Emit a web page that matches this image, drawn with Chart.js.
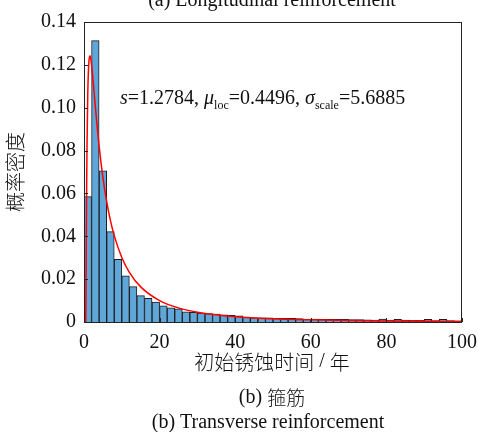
<!DOCTYPE html>
<html>
<head>
<meta charset="utf-8">
<script src="https://cdn.jsdelivr.net/npm/chart.js@4.4.0/dist/chart.umd.min.js"></script>
<style>
  html, body { margin: 0; padding: 0; background: #fff; }
  #wrap { width: 478px; height: 432px; }
</style>
</head>
<body>
<div id="wrap"><canvas id="histChart" width="478" height="432"></canvas></div>
<script>
// histogram bins (width 2 years), centres
const binCenters = [1, 3, 5, 7, 9, 11, 13, 15, 17, 19, 21, 23, 25, 27, 29, 31, 33, 35, 37, 39,
  41, 43, 45, 47, 49, 51, 53, 55, 57, 59, 61, 63, 65, 67, 69, 71, 73, 75, 77, 79,
  81, 83, 85, 87, 89, 91, 93, 95, 97, 99];
const density = [0.0585, 0.1313, 0.0705, 0.0422, 0.0293, 0.0215, 0.0165, 0.0123, 0.0110, 0.0093,
  0.0076, 0.0066, 0.0061, 0.0048, 0.0045, 0.0042, 0.0039, 0.0037, 0.0034, 0.0031,
  0.0029, 0.0023, 0.0020, 0.0020, 0.0019, 0.0017, 0.0017, 0.0017, 0.0016, 0.0014,
  0.0014, 0.0013, 0.0013, 0.0012, 0.0012, 0.0011, 0.0011, 0.0010, 0.0009, 0.0014,
  0.0009, 0.0013, 0.0009, 0.0008, 0.0008, 0.0013, 0.0007, 0.0013, 0.0007, 0.0006];

// fitted lognormal curve
const fitX = [0.45, 0.5, 0.6, 0.7, 0.8, 1.0, 1.3, 1.6, 2, 2.5, 3, 4, 5, 6, 7, 8, 10, 12, 15,
  20, 25, 30, 40, 50, 60, 70, 80, 90, 100];
const fitY = [0, 0.0067, 0.0366, 0.0631, 0.0827, 0.1068, 0.1216, 0.1242, 0.1200, 0.1107, 0.1005,
  0.0821, 0.0675, 0.0562, 0.0473, 0.0403, 0.0301, 0.0232, 0.0164,
  0.0100, 0.0066, 0.0046, 0.0025, 0.0015, 0.0010, 0.00066, 0.00047, 0.00034, 0.00026];

const xTicks = [0, 20, 40, 60, 80, 100];
const yTicks = [0, 0.02, 0.04, 0.06, 0.08, 0.10, 0.12, 0.14];

const serif = '"Liberation Serif", "Times New Roman", serif';
const cjk = '"Noto Sans CJK SC", "Liberation Serif", serif';

// draws a run of [text, font, dy] pieces centred on cx
function drawRuns(ctx, runs, cx, y) {
  let total = 0;
  runs.forEach(([t, f]) => { ctx.font = f; total += ctx.measureText(t).width; });
  let x = cx - total / 2;
  ctx.textAlign = 'left';
  runs.forEach(([t, f, dy]) => {
    ctx.font = f;
    ctx.fillText(t, x, y + (dy || 0));
    x += ctx.measureText(t).width;
  });
}

// frame, inside ticks, titles and annotation
const decorPlugin = {
  id: 'decor',
  afterDraw(chart) {
    const { ctx, chartArea: ca, scales } = chart;
    ctx.save();
    ctx.strokeStyle = '#222';
    ctx.lineWidth = 1;
    ctx.strokeRect(ca.left + 0.5, ca.top + 0.5, ca.right - ca.left - 1, ca.bottom - ca.top);
    ctx.beginPath();
    yTicks.forEach(v => {
      const y = Math.round(scales.y.getPixelForValue(v)) + 0.5;
      ctx.moveTo(ca.left, y); ctx.lineTo(ca.left + 4, y);
    });
    xTicks.forEach(v => {
      const x = Math.round(scales.x.getPixelForValue(v)) + 0.5;
      ctx.moveTo(x, ca.bottom); ctx.lineTo(x, ca.bottom - 4);
    });
    ctx.stroke();

    ctx.fillStyle = '#111';
    ctx.textAlign = 'center';
    // top caption (cut off)
    ctx.font = '20px ' + serif;
    ctx.textBaseline = 'alphabetic';
    ctx.fillText('(a) Longitudinal reinforcement', 272, 6);
    // x title
    ctx.textBaseline = 'middle';
    drawRuns(ctx, [['初始锈蚀时间', '300 20px ' + cjk], [' / ', '20px ' + serif], ['年', '300 20px ' + cjk]], 272, 362);
    // captions
    drawRuns(ctx, [['(b) ', '20px ' + serif], ['箍筋', '300 19px ' + cjk]], 272, 398);
    ctx.textAlign = 'center';
    ctx.font = '20px ' + serif;
    ctx.fillText('(b) Transverse reinforcement', 268, 423);
    // y title
    ctx.save();
    ctx.translate(15, 172);
    ctx.rotate(-Math.PI / 2);
    ctx.textAlign = 'center';
    ctx.font = '300 20px ' + cjk;
    ctx.fillText('概率密度', 0, 0);
    ctx.restore();

    // annotation with subscripts
    const parts = [
      ['s', 'italic 20px ' + serif, 0],
      ['=1.2784, ', '20px ' + serif, 0],
      ['μ', 'italic 20px ' + serif, 0],
      ['loc', '12px ' + serif, 5],
      ['=0.4496, ', '20px ' + serif, 0],
      ['σ', 'italic 20px ' + serif, 0],
      ['scale', '12px ' + serif, 5],
      ['=5.6885', '20px ' + serif, 0]
    ];
    ctx.textAlign = 'left';
    ctx.textBaseline = 'alphabetic';
    let x = 120;
    const base = 104;
    parts.forEach(([t, f, dy]) => {
      ctx.font = f;
      ctx.fillText(t, x, base + dy);
      x += ctx.measureText(t).width;
    });
    ctx.restore();
  }
};

new Chart(document.getElementById('histChart'), {
  type: 'bar',
  data: {
    datasets: [
      {
        type: 'line',
        data: fitX.map((v, i) => ({ x: v, y: fitY[i] })),
        borderColor: '#ff0000',
        borderWidth: 1.5,
        pointRadius: 0,
        cubicInterpolationMode: 'monotone',
        fill: false,
        order: 0
      },
      {
        type: 'bar',
        data: binCenters.map((v, i) => ({ x: v, y: density[i] })),
        backgroundColor: '#5fa6d9',
        borderColor: '#1e1e1e',
        borderWidth: 1,
        barPercentage: 1,
        categoryPercentage: 1,
        order: 1
      }
    ]
  },
  options: {
    responsive: false,
    animation: false,
    layout: { padding: { top: 22, right: 16, left: 0, bottom: 0 } },
    plugins: { legend: { display: false }, tooltip: { enabled: false } },
    scales: {
      x: {
        type: 'linear',
        min: 0, max: 100,
        offset: false,
        afterFit: s => { s.height = 110; s.paddingRight = 0; s.paddingLeft = 0; },
        afterBuildTicks: s => { s.ticks = xTicks.map(v => ({ value: v })); },
        grid: { display: false, drawTicks: false, offset: false },
        border: { display: false },
        ticks: { color: '#111', padding: 9, font: { family: serif, size: 20 } }
      },
      y: {
        min: 0, max: 0.14,
        afterFit: s => { s.width = 84; s.paddingTop = 0; s.paddingBottom = 0; },
        afterBuildTicks: s => { s.ticks = yTicks.map(v => ({ value: v })); },
        grid: { display: false, drawTicks: false },
        border: { display: false },
        ticks: {
          color: '#111', padding: 8, font: { family: serif, size: 20 },
          callback: v => v === 0 ? '0' : v.toFixed(2)
        }
      }
    }
  },
  plugins: [decorPlugin]
});
</script>
</body>
</html>
